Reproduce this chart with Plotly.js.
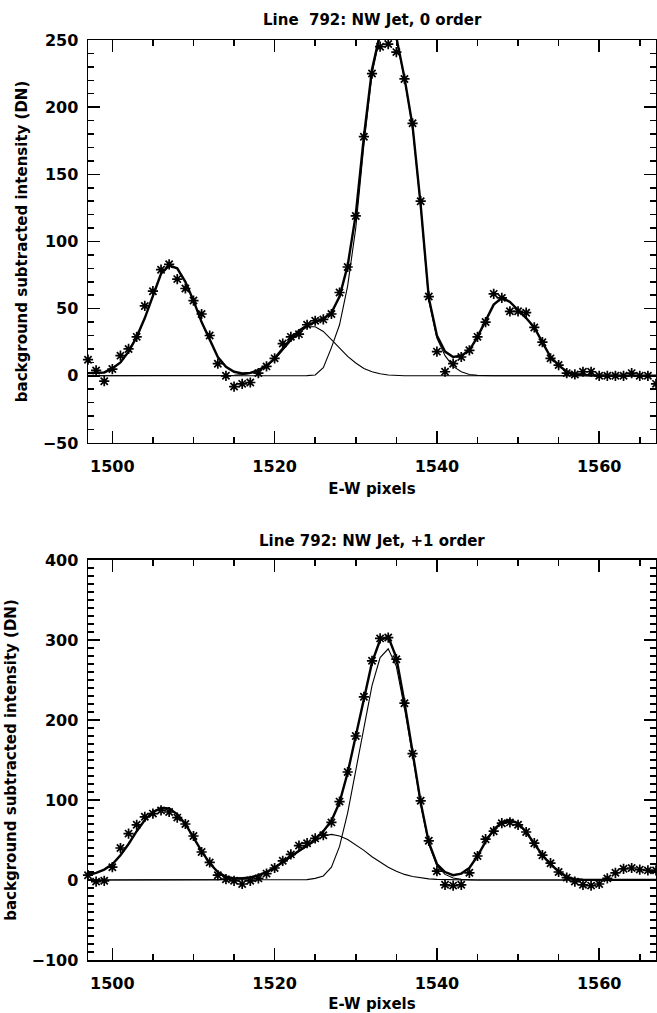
<!DOCTYPE html>
<html>
<head>
<meta charset="utf-8">
<script src="https://cdn.plot.ly/plotly-3.0.1.min.js"></script>
<style>html,body{margin:0;padding:0;background:#fff;}#chart{width:657px;height:1013px;}</style>
</head>
<body>
<div id="chart"></div>
<script>
// E-W pixel positions (shared by both panels)
const pixels = [1497,1498,1499,1500,1501,1502,1503,1504,1505,1506,1507,1508,1509,1510,1511,1512,1513,1514,1515,1516,
  1517,1518,1519,1520,1521,1522,1523,1524,1525,1526,1527,1528,1529,1530,1531,1532,1533,1534,1535,1536,
  1537,1538,1539,1540,1541,1542,1543,1544,1545,1546,1547,1548,1549,1550,1551,1552,1553,1554,1555,1556,
  1557,1558,1559,1560,1561,1562,1563,1564,1565,1566,1567];

// ---- Top panel: 0 order ----
const obs0 = [12,4,-4,5,15,20,29,52,63,79,83,72,65,56,46,30,9,0,-8,-6,
  -5,2,7,13,24,29,31,38,41,42,46,62,81,119,178,225,245,247,241,221,
  188,130,59,18,3,9,14,19,29,40,61,58,48,48,47,36,25,13,8,2,
  1,3,3,0,0,0,0,2,0,0,-6];
const fit0 = [2,2,2.5,5.5,10,18,29,43,60,76,82,80,70,56,40,26.5,14,6.7,3,1.7,
  2.2,4.2,7.4,13,20,27.5,33.5,37.5,40,42.5,47,59,82,120,178,228,255,263,252,222,
  186,127,58,30,18,14,15,19,29,41,53,58,55,49,43,36,24.5,14,8,3,
  1.2,0.5,0.3,0.2,0.1,0.1,0.1,0.1,0.1,0.1,0.1];
const compA0 = [0,0,0,0,0,0,0,0,0,0,0,0,0,0,0,0,0,0.2,0.4,0.9,
  1.8,3.8,7,12,19,26,32,36.5,36.5,33,27,21,14.5,9.5,5.5,3,1.5,0.6,0.2,0,
  0,0,0,0,0,0,0,0,0,0,0,0,0,0,0,0,0,0,0,0,
  0,0,0,0,0,0,0,0,0,0,0];
const compB0 = [0,0,0,0,0,0,0,0,0,0,0,0,0,0,0,0,0,0,0,0,
  0,0,0,0,0,0,0,0.1,0.6,6,21,38,67,110,172,225,253,262,251,221,
  185,126,56,28,15,7,3,1,0.3,0,0,0,0,0,0,0,0,0,0,0,
  0,0,0,0,0,0,0,0,0,0,0];

// ---- Bottom panel: +1 order ----
const obs1 = [6,-2,-1,16,40,58,69,79,83,87,85,78,70,55,35,22,6,1,-1,-5,
  -1,2,8,15,24,32,43,46,52,56,72,98,135,180,229,274,302,303,276,221,
  158,99,49,11,-6,-7,-6,9,30,51,61,71,72,69,60,46,31,21,10,3,
  -2,-6,-7,-5,2,9,14,15,13,12,12];
const fit1 = [6,9,13,19.6,31,45,61,75,85,90,89.5,82,70,53,36,21,10,4,2,2,
  3,6,10,15.4,22.5,30,36.5,43,51,61,74,97,134,180,228,272,300,304,278,222,
  160,97,47,20,10,6,8,15,30,48,63,72,75,71,60,45,31,19.5,11,4,
  1,0.3,0.1,0.1,0.1,0.1,0.1,0.1,0.1,0.1,0.1];
const compA1 = [0,0,0,0,0,0,0,0,0,0,0,0,0,0,0,0.2,0.5,1,1.7,2.7,
  4,6,9.5,14.5,21,28.5,35.5,42,49,55,57,55,50.6,44.3,37,29,22,16,11,7,
  4.4,2.6,1.4,0.8,0.4,0.2,0,0,0,0,0,0,0,0,0,0,0,0,0,0,
  0,0,0,0,0,0,0,0,0,0,0];
const compB1 = [0,0,0,0,0,0,0,0,0,0,0,0,0,0,0,0,0,0,0,0,
  0,0,0,0,0,0,0,0.5,2,5,16,42,84,136,191,243,278,289,267,215,
  156,94,45,18,7,2.5,0.8,0.2,0,0,0,0,0,0,0,0,0,0,0,0,
  0,0,0,0,0,0,0,0,0,0,0];

const titles = ['Line  792: NW Jet, 0 order', 'Line 792: NW Jet, +1 order'];
const xLabel = 'E-W pixels';
const yLabel = 'background subtracted intensity (DN)';

const FONT = 'DejaVu Sans';
const thin = {color:'#000', width:1.1};
const thick = {color:'#000', width:2.4};
const mk = {symbol:'asterisk-open', size:8.5, color:'#000', line:{color:'#000', width:1.7}};

function panel(xa, ya, obs, fit, a, b) {
  return [
    {x:pixels, y:a, xaxis:xa, yaxis:ya, mode:'lines', line:thin, hoverinfo:'skip'},
    {x:pixels, y:b, xaxis:xa, yaxis:ya, mode:'lines', line:thin, hoverinfo:'skip'},
    {x:pixels, y:fit, xaxis:xa, yaxis:ya, mode:'lines', line:thick},
    {x:pixels, y:obs, xaxis:xa, yaxis:ya, mode:'markers', marker:mk, cliponaxis:false}
  ];
}

const data = [].concat(
  panel('x','y',obs0,fit0,compA0,compB0),
  panel('x2','y2',obs1,fit1,compA1,compB1)
);

function xAxis(anchor) {
  return {
    anchor: anchor, domain:[0,1], range:[1497,1567], tick0:1500, dtick:20,
    ticks:'inside', ticklen:12, tickwidth:1.5, tickcolor:'#000',
    minor:{dtick:5, tick0:1500, ticks:'inside', ticklen:6, tickwidth:1.5, tickcolor:'#000', showgrid:false},
    showline:true, linewidth:1.5, linecolor:'#000', mirror:'ticks',
    showgrid:false, zeroline:false, ticklabelstandoff:8,
    tickfont:{family:FONT, size:16, color:'#000', weight:'bold'},
    title:{text:xLabel, standoff:9, font:{family:FONT, size:15, color:'#000', weight:'bold'}}
  };
}
function yAxis(anchor, dom, rng, dt) {
  return {
    anchor: anchor, domain:dom, range:rng, dtick:dt, tick0:0,
    ticks:'inside', ticklen:12, tickwidth:1.5, tickcolor:'#000',
    minor:{dtick:10, tick0:0, ticks:'inside', ticklen:6, tickwidth:1.5, tickcolor:'#000', showgrid:false},
    showline:true, linewidth:1.5, linecolor:'#000', mirror:'ticks',
    showgrid:false, zeroline:false, ticklabelstandoff:5,
    tickfont:{family:FONT, size:16, color:'#000', weight:'bold'},
    title:{text:yLabel, standoff:11, font:{family:FONT, size:15, color:'#000', weight:'bold'}}
  };
}

const layout = {
  width:657, height:1013,
  margin:{l:88, r:1, t:40, b:53},
  paper_bgcolor:'#fff', plot_bgcolor:'#fff',
  showlegend:false,
  font:{family:FONT, color:'#000'},
  xaxis: xAxis('y'),
  yaxis: yAxis('x', [0.562,1], [-50,250], 50),
  xaxis2: xAxis('y2'),
  yaxis2: yAxis('x2', [0,0.4348], [-100,400], 100),
  annotations:[
    {text:titles[0], xref:'paper', yref:'paper', x:0.5, y:1.0217, xanchor:'center', yanchor:'middle', showarrow:false,
     font:{family:FONT, size:15, color:'#000', weight:'bold'}},
    {text:titles[1], xref:'paper', yref:'paper', x:0.5, y:0.4554, xanchor:'center', yanchor:'middle', showarrow:false,
     font:{family:FONT, size:15, color:'#000', weight:'bold'}}
  ]
};

Plotly.newPlot('chart', data, layout, {staticPlot:true, displayModeBar:false});
</script>
</body>
</html>
